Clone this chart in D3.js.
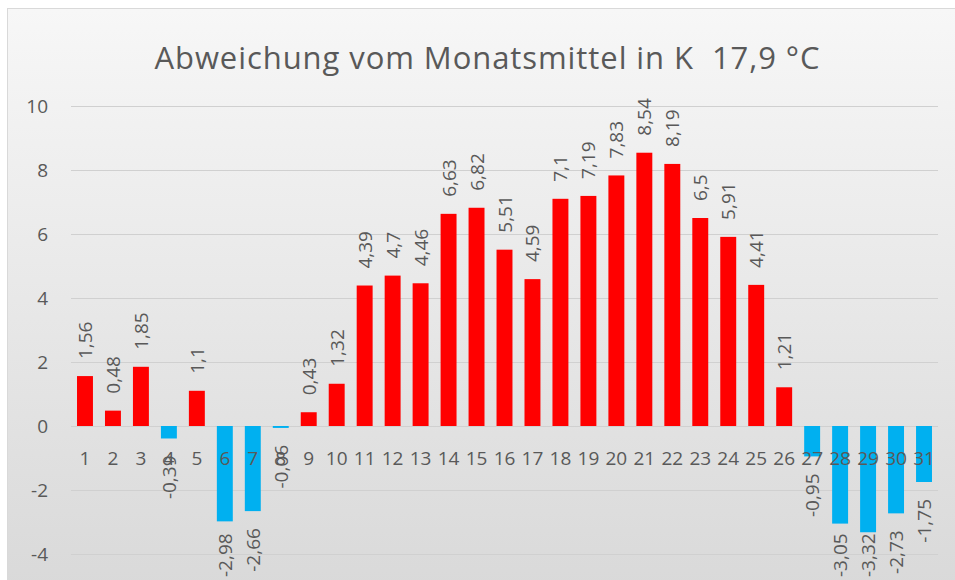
<!DOCTYPE html>
<html>
<head>
<meta charset="utf-8">
<title>Abweichung vom Monatsmittel</title>
<script src="https://d3js.org/d3.v7.min.js"></script>
<style>
  body { margin: 0; background: #ffffff; }
  svg { display: block; font-family: "Open Sans", sans-serif; }
</style>
</head>
<body>
<div id="chart"></div>
<script>
// data
var days = [1,2,3,4,5,6,7,8,9,10,11,12,13,14,15,16,17,18,19,20,21,22,23,24,25,26,27,28,29,30,31];
var deviation = [1.56,0.48,1.85,-0.39,1.1,-2.98,-2.66,-0.06,0.43,1.32,4.39,4.7,4.46,6.63,6.82,5.51,4.59,7.1,7.19,7.83,8.54,8.19,6.5,5.91,4.41,1.21,-0.95,-3.05,-3.32,-2.73,-1.75];
var yTicks = [-4,-2,0,2,4,6,8,10];
var title = "Abweichung vom Monatsmittel in K  17,9 °C";

var width = 955, height = 580;
var textColor = "#595959";
var fontSize = "19px";

var svg = d3.select("#chart").append("svg")
  .attr("width", width)
  .attr("height", height);

// background gradient like the excel chart area
var grad = svg.append("defs").append("linearGradient")
  .attr("id", "bg")
  .attr("x1", 0).attr("y1", 0).attr("x2", 0).attr("y2", 1);
grad.append("stop").attr("offset", "0%").attr("stop-color", "#f7f7f7");
grad.append("stop").attr("offset", "100%").attr("stop-color", "#d8d8d8");

svg.append("rect")
  .attr("x", 7.5).attr("y", 8.5)
  .attr("width", 1000).attr("height", 600)
  .attr("fill", "url(#bg)")
  .attr("stroke", "#d9d9d9")
  .attr("stroke-width", 1);

var x = d3.scaleBand()
  .domain(days)
  .range([71, 938])
  .paddingInner(0.43)
  .paddingOuter(0.215);

var y = d3.scaleLinear()
  .domain([-4, 10])
  .range([554, 106]);

// gridlines
svg.append("g")
  .selectAll("line")
  .data(yTicks)
  .enter().append("line")
    .attr("x1", 71).attr("x2", 938)
    .attr("y1", function(d) { return Math.round(y(d)) + 0.5; })
    .attr("y2", function(d) { return Math.round(y(d)) + 0.5; })
    .attr("stroke", "#d0d0d0")
    .attr("stroke-width", 1);

// y axis labels
svg.append("g")
  .selectAll("text")
  .data(yTicks)
  .enter().append("text")
    .attr("x", 48)
    .attr("y", function(d) { return y(d); })
    .attr("text-anchor", "end")
    .attr("dominant-baseline", "central")
    .attr("fill", textColor)
    .style("font-size", fontSize)
    .text(function(d) { return d; });

var data = days.map(function(d, i) { return {day: d, value: deviation[i]}; });

// bars
svg.append("g")
  .selectAll("rect")
  .data(data)
  .enter().append("rect")
    .attr("x", function(d) { return x(d.day); })
    .attr("width", x.bandwidth())
    .attr("y", function(d) { return y(Math.max(0, d.value)); })
    .attr("height", function(d) { return Math.abs(y(d.value) - y(0)); })
    .attr("fill", function(d) { return d.value >= 0 ? "#ff0000" : "#00b0f0"; });

// category labels
svg.append("g")
  .selectAll("text")
  .data(days)
  .enter().append("text")
    .attr("x", function(d) { return x(d) + x.bandwidth() / 2; })
    .attr("y", 458)
    .attr("text-anchor", "middle")
    .attr("dominant-baseline", "central")
    .attr("fill", textColor)
    .style("font-size", fontSize)
    .text(function(d) { return d; });

// value labels, rotated
var fmt = function(v) { return String(v).replace(".", ","); };
var gap = 17, bottomLimit = 577;
var labels = svg.append("g")
  .selectAll("text")
  .data(data)
  .enter().append("text")
    .attr("text-anchor", function(d) { return d.value >= 0 ? "start" : "end"; })
    .attr("dominant-baseline", "central")
    .attr("fill", textColor)
    .style("font-size", fontSize)
    .text(function(d) { return fmt(d.value); });

labels.each(function(d) {
  var len = this.getComputedTextLength();
  var cx = x(d.day) + x.bandwidth() / 2;
  var cy;
  if (d.value >= 0) {
    cy = y(d.value) - gap;
  } else {
    cy = y(d.value) + gap;
    if (cy + len > bottomLimit) cy = bottomLimit - len;
  }
  d3.select(this).attr("transform", "translate(" + cx + "," + cy + ") rotate(-90)");
});

// title
svg.append("text")
  .attr("x", 487)
  .attr("y", 69)
  .attr("text-anchor", "middle")
  .attr("fill", textColor)
  .attr("textLength", 665)
  .attr("lengthAdjust", "spacing")
  .style("white-space", "pre")
  .style("font-size", "31px")
  .text(title);
</script>
</body>
</html>
